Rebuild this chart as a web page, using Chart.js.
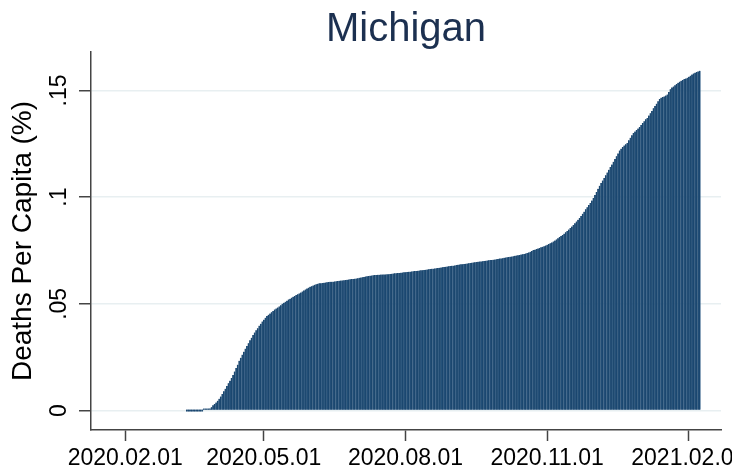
<!DOCTYPE html>
<html>
<head>
<meta charset="utf-8">
<script src="https://cdn.jsdelivr.net/npm/chart.js@4/dist/chart.umd.min.js"></script>
<style>
html,body{margin:0;padding:0;background:#fff;}
canvas{display:block;}
</style>
</head>
<body>
<canvas id="c" width="732" height="474"></canvas>
<script>
const chartTitle = 'Michigan';
const yAxisTitle = 'Deaths Per Capita (%)';
// first day of the daily series
const firstDate = '2020-03-12';
// cumulative deaths per capita (%), one value per day from firstDate
const deathsPerCapita = [
  0,0,0,0,0,0,0,0,0,
  0,0,0.0002,0.0002,0.0004,0.0006,0.0010,0.0016,0.0025,0.0031,
  0.0038,0.0046,0.0055,0.0066,0.0078,0.0090,0.0102,0.0115,0.0128,0.0140,
  0.0153,0.0167,0.0183,0.0199,0.0215,0.0233,0.0247,0.0262,0.0276,0.0290,
  0.0303,0.0316,0.0329,0.0341,0.0354,0.0366,0.0376,0.0386,0.0398,0.0407,
  0.0417,0.0426,0.0435,0.0443,0.0449,0.0455,0.0461,0.0467,0.0473,0.0478,
  0.0483,0.0488,0.0494,0.0500,0.0505,0.0510,0.0515,0.0520,0.0524,0.0529,
  0.0533,0.0537,0.0541,0.0545,0.0549,0.0553,0.0558,0.0563,0.0567,0.0572,
  0.0576,0.0580,0.0583,0.0586,0.0589,0.0592,0.0594,0.0596,0.0597,0.0598,
  0.0599,0.0600,0.0601,0.0602,0.0603,0.0603,0.0604,0.0605,0.0606,0.0607,
  0.0608,0.0609,0.0610,0.0611,0.0612,0.0613,0.0614,0.0615,0.0616,0.0617,
  0.0618,0.0619,0.0620,0.0622,0.0623,0.0625,0.0626,0.0628,0.0629,0.0631,
  0.0632,0.0633,0.0634,0.0635,0.0635,0.0636,0.0636,0.0637,0.0637,0.0638,
  0.0638,0.0639,0.0639,0.0640,0.0641,0.0642,0.0643,0.0643,0.0644,0.0645,
  0.0646,0.0647,0.0648,0.0648,0.0649,0.0650,0.0651,0.0652,0.0653,0.0654,
  0.0654,0.0655,0.0656,0.0657,0.0658,0.0659,0.0660,0.0661,0.0662,0.0663,
  0.0664,0.0665,0.0666,0.0667,0.0668,0.0669,0.0670,0.0671,0.0673,0.0674,
  0.0675,0.0676,0.0677,0.0678,0.0679,0.0680,0.0682,0.0683,0.0684,0.0685,
  0.0686,0.0687,0.0688,0.0689,0.0690,0.0692,0.0693,0.0694,0.0695,0.0696,
  0.0697,0.0698,0.0699,0.0700,0.0701,0.0702,0.0703,0.0704,0.0705,0.0706,
  0.0707,0.0708,0.0709,0.0710,0.0712,0.0713,0.0714,0.0716,0.0717,0.0718,
  0.0719,0.0721,0.0722,0.0723,0.0725,0.0726,0.0728,0.0729,0.0731,0.0732,
  0.0734,0.0736,0.0738,0.0741,0.0744,0.0748,0.0752,0.0754,0.0757,0.0759,
  0.0762,0.0765,0.0767,0.0770,0.0773,0.0777,0.0780,0.0784,0.0788,0.0792,
  0.0797,0.0802,0.0807,0.0813,0.0818,0.0823,0.0829,0.0835,0.0841,0.0848,
  0.0855,0.0862,0.0870,0.0878,0.0886,0.0894,0.0902,0.0912,0.0922,0.0932,
  0.0943,0.0953,0.0963,0.0973,0.0984,0.0996,0.1010,0.1024,0.1039,0.1053,
  0.1066,0.1078,0.1090,0.1102,0.1115,0.1128,0.1141,0.1153,0.1166,0.1179,
  0.1192,0.1205,0.1218,0.1227,0.1235,0.1242,0.1248,0.1254,0.1266,0.1278,
  0.1290,0.1300,0.1307,0.1314,0.1321,0.1329,0.1338,0.1347,0.1356,0.1365,
  0.1371,0.1382,0.1393,0.1404,0.1416,0.1427,0.1438,0.1449,0.1460,0.1466,
  0.1469,0.1472,0.1476,0.1481,0.1493,0.1505,0.1514,0.1518,0.1524,0.1530,
  0.1536,0.1541,0.1545,0.1549,0.1553,0.1556,0.1559,0.1564,0.1569,0.1574,
  0.1579,0.1583,0.1586,0.1589,0.1592
];
const xTickDates = ['2020-02-01','2020-05-01','2020-08-01','2020-11-01','2021-02-01'];
const xTickLabels = ['2020.02.01','2020.05.01','2020.08.01','2020.11.01','2021.02.01'];
const yTickValues = [0, 0.05, 0.1, 0.15];
const yTickLabels = ['0', '.05', '.1', '.15'];
// axis ranges: x in days counted from 2020-02-01, y in %
const xAxisRange = [-22.2, 386.9];
const yAxisRange = [-0.0091, 0.168];

const DAY = 86400000;
const origin = Date.UTC(2020, 1, 1);
function dayNum(s) {
  const p = s.split('-').map(Number);
  return (Date.UTC(p[0], p[1] - 1, p[2]) - origin) / DAY;
}
const startDay = dayNum(firstDate);
const points = deathsPerCapita.map((v, i) => ({ x: startDay + i, y: v }));

const FONT = "'Liberation Sans', Arial, sans-serif";
Chart.defaults.font.family = FONT;

new Chart(document.getElementById('c').getContext('2d'), {
  type: 'bar',
  data: {
    datasets: [{
      data: points,
      backgroundColor: '#1b476f',
      borderColor: '#335f89',
      borderWidth: { left: 0, right: 0.5, top: 0, bottom: 0 },
      borderSkipped: false,
      barPercentage: 1,
      categoryPercentage: 1,
      minBarLength: 2
    }]
  },
  options: {
    responsive: false,
    animation: false,
    events: [],
    layout: { padding: { left: 0, right: 11, top: 0, bottom: 0 } },
    plugins: {
      legend: { display: false },
      tooltip: { enabled: false },
      title: {
        display: true,
        fullSize: false,
        text: chartTitle,
        color: '#1c3050',
        font: { family: FONT, size: 40, weight: 'normal', lineHeight: 1 },
        padding: { top: 10, bottom: 2 }
      }
    },
    scales: {
      x: {
        type: 'linear',
        min: xAxisRange[0],
        max: xAxisRange[1],
        offset: false,
        grid: { display: true, offset: false, drawOnChartArea: false, drawTicks: true, tickLength: 11, tickColor: '#444', tickWidth: 1.5 },
        border: { display: true, color: '#444', width: 1.5 },
        ticks: {
          autoSkip: false, minRotation: 0, maxRotation: 0, padding: 4,
          color: '#000', font: { family: FONT, size: 23 },
          callback: (v, i) => xTickLabels[i]
        },
        afterBuildTicks: s => { s.ticks = xTickDates.map(d => ({ value: dayNum(d) })); },
        afterFit: s => { s.height = 44; s.paddingLeft = 0; s.paddingRight = 0; }
      },
      y: {
        type: 'linear',
        min: yAxisRange[0],
        max: yAxisRange[1],
        grid: { color: '#e8eff1', lineWidth: 1.5, drawTicks: true, tickLength: 12, tickColor: '#444', tickWidth: 1.5 },
        border: { display: true, color: '#444', width: 1.5 },
        ticks: {
          autoSkip: false, minRotation: 90, maxRotation: 90, crossAlign: 'center', padding: 3,
          color: '#000', font: { family: FONT, size: 23 },
          callback: (v, i) => yTickLabels[i]
        },
        afterBuildTicks: s => { s.ticks = yTickValues.map(v => ({ value: v })); },
        afterFit: s => { s.width = 91; s.paddingTop = 0; s.paddingBottom = 0; },
        title: {
          display: true, text: yAxisTitle, color: '#000',
          font: { family: FONT, size: 28 },
          padding: { top: 6, bottom: 0 }
        }
      }
    }
  }
});
</script>
</body>
</html>
